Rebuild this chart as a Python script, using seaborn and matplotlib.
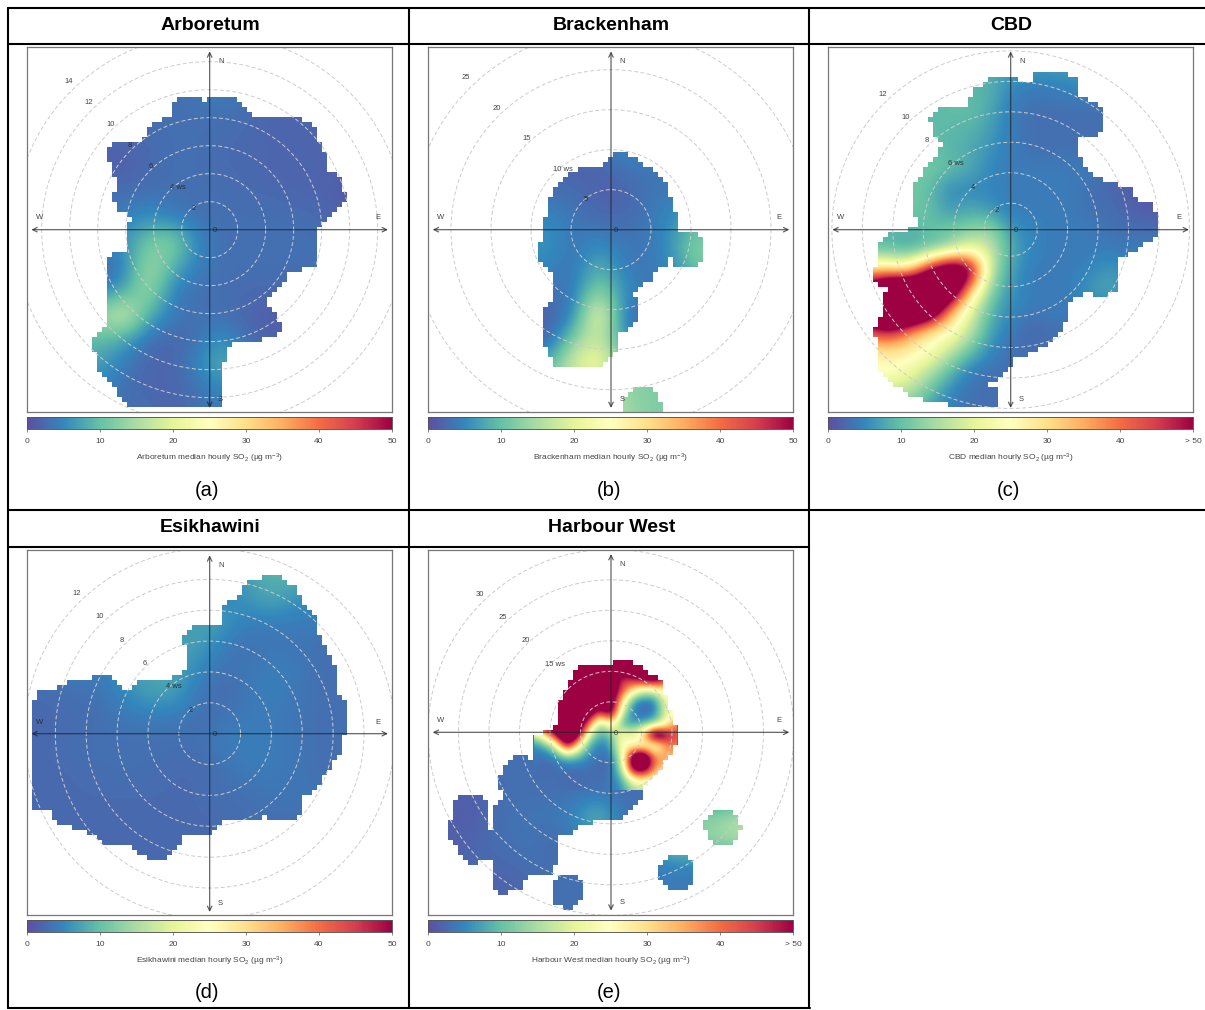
import numpy as np
import matplotlib
matplotlib.use('Agg')
import matplotlib.pyplot as plt
import seaborn as sns
from matplotlib.colors import ListedColormap
from matplotlib.lines import Line2D
from matplotlib.path import Path

site_names = ['Arboretum', 'Brackenham', 'CBD', 'Esikhawini', 'Harbour West']
panel_letters = ['(a)', '(b)', '(c)', '(d)', '(e)']
scale_ticks = [0, 10, 20, 30, 40, 50]

# wind speed rings
arb_rings = [2, 4, 6, 8, 10, 12, 14]
bra_rings = [5, 10, 15, 20, 25]
cbd_rings = [2, 4, 6, 8, 10, 12]
esi_rings = [2, 4, 6, 8, 10, 12]
har_rings = [5, 10, 15, 20, 25, 30]
arb_ring_text = ['2', '4 ws', '6', '8', '10', '12', '14']
bra_ring_text = ['5', '10 ws', '15', '20', '25']
cbd_ring_text = ['2', '4', '6 ws', '8', '10', '12']
esi_ring_text = ['2', '4 ws', '6', '8', '10', '12']
har_ring_text = ['15 ws', '20', '25', '30']
arb_text_x = [552, 505, 423, 360, 302, 238, 176]
arb_text_y = [508, 445, 381, 317, 254, 190, 126]
bra_text_x = [521, 453, 345, 253, 161]
bra_text_y = [481, 390, 298, 206, 115]
cbd_text_x = [553, 484, 433, 344, 281, 212]
cbd_text_y = [514, 443, 373, 304, 235, 165]
esi_text_x = [543, 494, 404, 335, 270, 200]
esi_text_y = [496, 425, 355, 285, 214, 144]
har_text_x = [430, 342, 273, 203]
har_text_y = [361, 289, 219, 150]

arb_outline_x = [600, 670, 710, 730, 790, 820, 860, 912, 925, 950, 955, 985, 1008, 1005, 975, 945, 925, 915, 915, 835, 830, 790, 765, 805, 818, 735, 690, 650, 640, 635, 600, 365, 320, 315, 265, 262, 250, 255, 295, 295, 285, 285, 320, 345, 350, 365, 320, 308, 325, 305, 295, 320, 400, 415, 490, 495, 545, 590]
arb_outline_y = [175, 170, 215, 232, 240, 235, 235, 255, 290, 345, 392, 400, 460, 490, 520, 550, 570, 620, 680, 700, 720, 755, 795, 820, 880, 905, 900, 925, 990, 1107, 1107, 1107, 1065, 1040, 1000, 950, 920, 890, 860, 780, 700, 655, 640, 630, 575, 535, 510, 460, 435, 400, 330, 307, 310, 260, 225, 180, 170, 185]
bra_outline_x = [597, 650, 690, 720, 770, 780, 793, 795, 820, 850, 878, 878, 855, 795, 782, 775, 770, 720, 715, 670, 665, 685, 685, 650, 620, 615, 595, 570, 495, 470, 430, 415, 397, 397, 418, 418, 380, 378, 397, 397, 410, 430, 480, 520, 580, 582]
bra_outline_y = [345, 340, 375, 385, 430, 510, 515, 575, 575, 575, 610, 660, 680, 680, 665, 650, 670, 700, 725, 750, 770, 785, 830, 870, 875, 930, 945, 975, 978, 985, 975, 945, 915, 800, 785, 695, 665, 620, 605, 545, 480, 445, 395, 380, 378, 355]
cbd_outline_x = [540, 655, 665, 690, 770, 800, 805, 855, 880, 880, 860, 805, 805, 820, 880, 920, 960, 965, 1025, 1040, 1040, 975, 930, 910, 922, 920, 870, 820, 775, 775, 720, 645, 615, 600, 550, 525, 555, 558, 410, 405, 330, 285, 230, 195, 200, 185, 210, 210, 225, 185, 180, 205, 195, 215, 265, 305, 320, 295, 310, 360, 390, 365, 355, 375, 470, 485]
cbd_outline_y = [115, 122, 100, 93, 100, 125, 165, 190, 210, 255, 285, 290, 345, 385, 425, 435, 445, 475, 495, 540, 585, 630, 650, 685, 710, 745, 775, 755, 785, 830, 905, 945, 945, 980, 1020, 1030, 1045, 1108, 1108, 1095, 1080, 1060, 1020, 985, 920, 870, 820, 790, 750, 725, 695, 650, 620, 590, 575, 565, 545, 515, 425, 365, 310, 290, 240, 205, 195, 150]
esi_outline_x = [600, 635, 645, 700, 705, 725, 800, 860, 885, 920, 935, 970, 985, 985, 1005, 1018, 1018, 1000, 1000, 950, 935, 900, 872, 870, 855, 775, 765, 700, 650, 600, 525, 495, 450, 420, 370, 365, 285, 265, 135, 130, 60, 60, 70, 70, 60, 60, 80, 100, 165, 180, 230, 260, 310, 335, 345, 400, 495, 530, 530, 520, 520, 545]
esi_outline_y = [240, 238, 175, 150, 115, 100, 90, 125, 180, 215, 290, 340, 385, 445, 470, 515, 545, 570, 620, 680, 720, 745, 760, 810, 830, 830, 815, 830, 825, 865, 875, 920, 950, 945, 915, 895, 895, 875, 830, 795, 790, 705, 690, 650, 640, 485, 450, 430, 425, 410, 405, 390, 395, 420, 435, 405, 395, 375, 300, 295, 270, 240]
har_outline_x = [597, 640, 690, 750, 750, 770, 785, 795, 795, 770, 740, 690, 685, 640, 620, 540, 525, 500, 495, 440, 445, 415, 345, 330, 265, 240, 238, 260, 220, 190, 170, 125, 110, 110, 130, 130, 150, 205, 235, 225, 248, 248, 270, 260, 285, 320, 370, 368, 365, 400, 430, 450, 470, 490, 520, 590]
har_outline_y = [355, 345, 370, 410, 430, 465, 535, 540, 600, 640, 680, 735, 775, 815, 830, 833, 845, 845, 860, 880, 925, 990, 995, 1040, 1045, 1020, 975, 960, 945, 960, 955, 900, 875, 830, 815, 770, 750, 750, 795, 850, 850, 785, 765, 700, 650, 630, 650, 630, 580, 560, 550, 450, 425, 380, 355, 355]

# separate low wind speed islands
bra_island_x = [690]
bra_island_y = [1100]
bra_island_r = [58]
har_island_x = [932, 793, 466]
har_island_y = [846, 984, 1042]
har_island_r = [54, 54, 50]

# SO2 on a regular grid over each plot box
arb_values = [
    [3, 3, 3, 3, 3, 3, 3, 3, 3, 3, 3, 3, 3, 3, 3, 3],
    [3, 3, 3, 3, 3, 3, 3, 3.5, 3.5, 3.5, 3, 3, 3, 3, 3, 3],
    [3, 3, 3, 3, 3, 3, 3, 3.5, 4, 3.5, 2.5, 2.5, 2.5, 2.5, 2.5, 2.5],
    [3, 3, 3, 3, 3, 3, 3, 3, 3, 2.5, 2, 2, 2, 2, 2, 2],
    [2, 2, 2, 2, 2, 2.5, 3, 3, 2.5, 2.5, 2, 2, 2, 2, 2, 2],
    [1.5, 1.5, 1.5, 1.5, 1.5, 2.5, 3, 3, 2.5, 2.5, 2, 2, 2, 2, 1, 1],
    [3, 3, 3, 3, 3, 3, 3, 3, 3, 2.5, 2.5, 2, 2, 1, 1, 1],
    [4, 4, 4, 4, 4, 6, 4, 3, 3, 3, 3, 3, 2.5, 2, 2, 2],
    [5, 5, 5, 5, 6, 11, 13, 5, 3, 3, 3, 3, 3, 3, 3, 3],
    [2, 2, 2, 2, 4, 15, 9, 4, 3, 3, 3, 3, 3, 3, 3, 3],
    [4, 4, 4, 4, 7, 15, 4, 3, 3, 2.5, 2.5, 2.5, 2.5, 2.5, 2.5, 2.5],
    [14, 14, 14, 14, 20, 8, 4, 3, 3, 2, 1.5, 1.5, 1.5, 1.5, 1.5, 1.5],
    [9, 9, 9, 10, 7, 3, 2, 3, 6, 3, 1.5, 1.5, 1.5, 1.5, 1.5, 1.5],
    [7, 7, 7, 7, 4, 2, 2, 5, 9, 5, 3, 3, 3, 3, 3, 3],
    [4, 4, 4, 5, 3, 2, 2, 3, 5, 5, 3, 3, 3, 3, 3, 3],
    [3, 3, 3, 3, 3, 3, 2, 3, 4, 4, 3, 3, 3, 3, 3, 3],
]
bra_values = [
    [4, 4, 4, 4, 4, 4, 4, 4, 4, 4, 4, 4, 4, 4, 4, 4],
    [4, 4, 4, 4, 4, 4, 4, 4, 4, 4, 4, 4, 4, 4, 4, 4],
    [4, 4, 4, 4, 4, 4, 4, 4, 4, 4, 4, 4, 4, 4, 4, 4],
    [4, 4, 4, 4, 4, 4, 4, 4, 4, 4, 4, 4, 4, 4, 4, 4],
    [4, 4, 4, 4, 4, 3, 3.5, 3.5, 5, 5, 4, 4, 4, 4, 4, 4],
    [2, 2, 2, 2, 2, 2, 1.5, 2, 3.5, 3.5, 3, 3, 3, 3, 3, 3],
    [3, 3, 3, 3, 3, 3, 3, 1.5, 1.5, 3.5, 4, 4, 4, 4, 4, 4],
    [5, 5, 5, 5, 5, 5, 3.5, 2.5, 2.5, 3.5, 5, 9, 9, 9, 9, 9],
    [6, 6, 6, 6, 6, 6, 3.5, 5, 3.5, 3.5, 6, 12, 12, 12, 12, 12],
    [5, 5, 5, 5, 5, 5, 3, 9, 4, 3.5, 5, 12, 12, 12, 12, 12],
    [3, 3, 3, 3, 3, 3.5, 3.5, 13, 6, 3.5, 4, 4, 4, 4, 4, 4],
    [1, 1, 1, 1, 1, 2, 4, 24, 4, 2, 2, 2, 2, 2, 2, 2],
    [1, 1, 1, 1, 1, 2, 12, 18, 6, 2, 2, 2, 2, 2, 2, 2],
    [8, 8, 8, 8, 8, 8, 20, 24, 12, 12, 12, 12, 12, 12, 12, 12],
    [14, 14, 14, 14, 14, 14, 14, 14, 14, 12, 12, 12, 12, 12, 12, 12],
    [15, 15, 15, 15, 15, 15, 15, 15, 15, 12, 12, 12, 12, 12, 12, 12],
]
cbd_values = [
    [8, 8, 8, 8, 8, 8, 8, 8, 8, 7, 7, 7, 7, 7, 7, 7, 7, 7, 7],
    [8, 8, 8, 8, 8, 8, 8, 8, 8, 7, 7, 7, 7, 7, 6, 6, 6, 6, 6],
    [9, 9, 9, 9, 9, 9, 9, 9, 9, 5, 4, 4, 5, 5, 5, 4, 4, 4, 4],
    [9, 9, 9, 9, 9, 9, 10, 10, 8, 4, 3, 3, 3, 3, 3, 3, 3, 3, 3],
    [10, 10, 10, 10, 10, 10, 9, 9, 7, 4, 3, 3, 3, 3, 3, 3, 3, 3, 3],
    [10, 10, 10, 10, 10, 10, 9, 8, 6, 4, 3, 3, 3, 3, 3, 3, 3, 3, 3],
    [11, 11, 11, 11, 11, 11, 10, 8, 5, 4, 4, 4, 4, 4, 3, 2, 2, 2, 2],
    [11, 11, 11, 11, 11, 10, 5, 5, 5, 4, 4, 4, 4, 3, 2, 1.5, 1, 1, 1],
    [11, 11, 11, 11, 11, 10, 6, 8, 6, 4, 4, 4, 4, 3, 3, 1.5, 1, 1, 1],
    [9, 9, 9, 9, 9, 10, 11, 12, 14, 6, 5, 4, 4, 4, 3, 3, 3, 3, 3],
    [9, 9, 9, 9, 7, 9, 13, 22, 18, 8, 5, 4, 4, 4, 4, 4, 4, 4, 4],
    [32, 32, 32, 30, 28, 52, 70, 60, 16, 7, 4, 4, 4, 5, 7, 4, 4, 4, 4],
    [60, 60, 60, 80, 80, 80, 70, 32, 12, 6, 4, 4, 4, 7, 8, 5, 5, 5, 5],
    [60, 60, 60, 80, 80, 70, 35, 20, 9, 5, 4, 4, 4, 4, 4, 4, 4, 4, 4],
    [45, 45, 45, 50, 38, 27, 26, 17, 7, 4, 2, 3, 3, 3, 3, 3, 3, 3, 3],
    [26, 26, 26, 28, 27, 25, 17, 10, 5, 3, 3, 3, 3, 3, 3, 3, 3, 3, 3],
    [25, 25, 25, 26, 22, 16, 9, 4, 3, 3, 3, 3, 3, 3, 3, 3, 3, 3, 3],
    [16, 16, 16, 16, 16, 10, 5, 3, 3, 3, 3, 3, 3, 3, 3, 3, 3, 3, 3],
    [10, 10, 10, 10, 10, 6, 4, 3, 3, 3, 3, 3, 3, 3, 3, 3, 3, 3, 3],
]
esi_values = [
    [5, 5, 5, 5, 5, 5, 5, 5, 5, 7, 9, 9, 7, 5, 5, 5],
    [5, 5, 5, 5, 5, 5, 5, 5, 5, 7, 9, 9, 7, 5, 5, 5],
    [5, 5, 5, 5, 5, 5, 5, 5, 5, 6, 8, 6, 5, 5, 5, 5],
    [5, 5, 5, 5, 5, 5, 6, 8, 7, 4, 4, 4, 4, 4, 4, 4],
    [5, 5, 5, 5, 5, 6, 7, 7, 4, 3, 3.5, 3.5, 3, 3, 3, 3],
    [4, 4, 4, 4, 6, 8, 8, 5, 3, 3.5, 4.5, 4, 3, 3, 3, 3],
    [2.5, 2.5, 3, 3, 5, 7, 7, 3.5, 2.5, 3.5, 4.5, 3.5, 3, 3, 3, 3],
    [2, 2.5, 2.5, 3, 3.5, 3.5, 3.5, 3, 3.5, 4, 4, 3.5, 3, 3, 3, 3],
    [2.5, 2.5, 3, 3, 3, 3, 3, 3, 4, 4.5, 4, 3.5, 3, 3, 3, 3],
    [2.5, 2.5, 2.5, 3, 3, 3, 2.5, 2.5, 3, 4, 4, 3.5, 3, 3, 3, 3],
    [2.5, 2.5, 2.5, 2.5, 2.5, 2.5, 2.5, 2.5, 3, 3, 3.5, 3.5, 3.5, 3, 3, 3],
    [2.5, 2.5, 2.5, 2.5, 2.5, 2.5, 2.5, 2.5, 2.5, 3, 3, 3, 3, 3, 3, 3],
    [2.5, 2.5, 2.5, 2.5, 2.5, 2.5, 2.5, 2.5, 2.5, 3, 3, 3, 3, 3, 3, 3],
    [2.5, 2.5, 2.5, 2.5, 2.5, 2.5, 2.5, 2.5, 2.5, 3, 3, 3, 3, 3, 3, 3],
    [2.5, 2.5, 2.5, 2.5, 2.5, 2.5, 2.5, 2.5, 2.5, 3, 3, 3, 3, 3, 3, 3],
    [2.5, 2.5, 2.5, 2.5, 2.5, 2.5, 2.5, 2.5, 2.5, 3, 3, 3, 3, 3, 3, 3],
]
har_values = [
    [3, 3, 3, 3, 3, 3, 3, 3, 3, 3, 3, 3, 3, 3, 3, 3],
    [3, 3, 3, 3, 3, 3, 3, 3, 3, 3, 3, 3, 3, 3, 3, 3],
    [3, 3, 3, 3, 3, 3, 3, 3, 3, 3, 3, 3, 3, 3, 3, 3],
    [3, 3, 3, 3, 3, 3, 3, 3, 3, 3, 3, 3, 3, 3, 3, 3],
    [3, 3, 3, 3, 3, 3, 3, 3, 3, 3, 3, 3, 3, 3, 3, 3],
    [3, 3, 3, 3, 3, 3, 3, 3, 3, 3, 3, 3, 3, 3, 3, 3],
    [3, 3, 3, 3, 3, 3, 3, 3, 3, 3, 3, 3, 3, 3, 3, 3],
    [3, 3, 3, 3, 3, 3, 3, 3, 3, 3, 3, 3, 3, 3, 3, 3],
    [3, 3, 3, 3, 3, 3, 3, 3, 3, 3, 3, 3, 3, 3, 3, 3],
    [3, 3, 3, 3, 3, 3, 3, 3, 3, 3, 3, 3, 3, 3, 3, 3],
    [3, 1.5, 1.5, 3, 3, 3, 3, 3, 3, 3, 3, 3, 3, 3, 3, 3],
    [1.5, 1.5, 1.5, 3, 3.5, 3.5, 5, 11, 3, 3, 13, 13, 14, 17, 17, 17],
    [1.5, 1.5, 2, 3, 3.5, 2.5, 3, 4, 3, 3, 13, 12, 14, 15, 15, 15],
    [1.5, 1.5, 3, 2, 3, 3, 3, 3, 3, 4, 4, 4, 4, 4, 4, 4],
    [1.5, 1.5, 2, 1.5, 2, 3, 3, 3, 3, 4, 4, 4, 4, 4, 4, 4],
    [3, 3, 3, 3, 3, 3, 3, 3, 3, 4, 4, 4, 4, 4, 4, 4],
]
# finer grid for the plume part of Harbour West, x 365-794, y 340-736
har_detail = [
    [60, 60, 60, 60, 60, 60, 60, 60, 60, 60, 60, 60, 60, 60],
    [60, 60, 60, 60, 60, 60, 60, 60, 60, 60, 60, 60, 60, 60],
    [60, 60, 60, 60, 60, 60, 60, 60, 44, 50, 55, 60, 45, 30],
    [60, 60, 60, 60, 60, 60, 60, 60, 45, 28, 18, 20, 30, 25],
    [60, 60, 60, 60, 60, 60, 60, 60, 30, 6, 3, 4, 22, 25],
    [60, 60, 60, 60, 60, 60, 45, 60, 18, 4, 2, 4, 20, 25],
    [60, 60, 60, 60, 60, 45, 10, 30, 8, 6, 8, 12, 22, 40],
    [15, 30, 55, 70, 60, 18, 8, 10, 25, 20, 35, 70, 55, 42],
    [5, 8, 18, 55, 26, 8, 4, 7, 25, 25, 22, 17, 36, 40],
    [4, 3, 5, 10, 9, 5, 3, 3, 20, 60, 70, 36, 38, 30],
    [3, 2, 3, 3, 3, 3, 2, 3, 14, 60, 60, 38, 30, 30],
    [3, 3, 3, 2.5, 2.5, 3, 3, 4, 8, 25, 30, 25, 20, 20],
    [3, 3, 3, 3, 3, 3, 3, 4, 5, 14, 15, 5, 3, 3],
]

sns.set_style('white')
plt.rcParams['font.family'] = ['Liberation Sans', 'DejaVu Sans']
plt.rcParams['mathtext.default'] = 'regular'
cmap = sns.color_palette('Spectral_r', as_cmap=True)

W, H = 1205, 1010
fig = plt.figure(figsize=(W / 100, H / 100), dpi=100, facecolor='white')


def rect(x0, y0, x1, y1):
    return [x0 / W, 1 - y1 / H, (x1 - x0) / W, (y1 - y0) / H]


def surface(position, values, colorbar_ax=None):
    ax = fig.add_axes(position)
    values = np.array(values, dtype=float)
    sns.heatmap(values, cmap=cmap, vmin=0, vmax=50, ax=ax,
                cbar=colorbar_ax is not None, cbar_ax=colorbar_ax,
                cbar_kws={'orientation': 'horizontal'},
                xticklabels=False, yticklabels=False)
    # same cells, smoothed in value space so the colours run through the whole palette
    rows, cols = values.shape
    ax.imshow(values, cmap=cmap, vmin=0, vmax=50, aspect='auto', zorder=2,
              interpolation='bicubic', interpolation_stage='data',
              extent=(-0.5, cols - 0.5, rows - 0.5, -0.5))
    ax.set_xlim(0, cols - 1)
    ax.set_ylim(rows - 1, 0)
    return ax


def draw_panel(name, letter, box, origin, centre, per_ws, rings, ring_offset, ring_text,
               text_x, text_y, outline_x, outline_y, values,
               islands=None, top_label='50', detail=None):
    x0, y0 = box
    px0, py0 = origin
    cx, cy = centre
    size = 365
    span = 1095
    position = rect(x0, y0, x0 + size, y0 + size)

    cax = fig.add_axes(rect(x0, y0 + size + 5, x0 + size, y0 + size + 17))
    surface(position, values, colorbar_ax=cax)
    if detail is not None:
        dx0, dx1, dy0, dy1, grid = detail
        surface(rect(x0 + (dx0 - px0) / 3, y0 + (dy0 - py0) / 3,
                     x0 + (dx1 - px0) / 3, y0 + (dy1 - py0) / 3), grid)

    cax.set_xticks(scale_ticks)
    cax.set_xticklabels([str(t) for t in scale_ticks[:-1]] + [top_label])
    cax.tick_params(axis='x', length=2.5, width=0.5, color='#555555', labelsize=6,
                    labelcolor='#444444', pad=4, bottom=True)
    cax.set_xlabel(name + ' median hourly SO$_2$ (µg m$^{-3}$)', fontsize=6,
                   color='#444444', labelpad=5)
    for s in cax.spines.values():
        s.set_visible(True)
        s.set_linewidth(0.5)
        s.set_color('#555555')

    ov = fig.add_axes(position, facecolor='none')
    ov.set_xlim(px0, px0 + span)
    ov.set_ylim(py0 + span, py0)
    ov.set_xticks([])
    ov.set_yticks([])
    for s in ov.spines.values():
        s.set_visible(True)
        s.set_color('#777777')
        s.set_linewidth(0.9)

    # white everywhere outside the sampled wind conditions, in 5 px cells
    edges_x = np.linspace(px0, px0 + span, 74)
    edges_y = np.linspace(py0, py0 + span, 74)
    mid_x = (edges_x[:-1] + edges_x[1:]) / 2
    mid_y = (edges_y[:-1] + edges_y[1:]) / 2
    gx, gy = np.meshgrid(mid_x, mid_y)
    points = np.column_stack([gx.ravel(), gy.ravel()])
    inside = Path(np.column_stack([outline_x, outline_y])).contains_points(points)
    if islands is not None:
        for ix, iy, ir in zip(*islands):
            inside |= (points[:, 0] - ix) ** 2 + (points[:, 1] - iy) ** 2 <= ir ** 2
    cover = np.ma.masked_where(inside.reshape(gx.shape), np.ones(gx.shape))
    ov.pcolormesh(edges_x, edges_y, cover, cmap=ListedColormap(['white']), zorder=1)

    theta = np.linspace(0, 2 * np.pi, 361)
    for ws in rings:
        r = ws * per_ws + ring_offset
        ov.plot(cx + r * np.cos(theta), cy + r * np.sin(theta), color='#cccccc', lw=0.7,
                ls=(0, (4, 2.5)), zorder=2)

    for start, end in [((cx - 535, cy), (cx + 535, cy)), ((cx, cy - 535), (cx, cy + 535))]:
        ov.annotate('', xy=end, xytext=start, zorder=3,
                    arrowprops=dict(arrowstyle='<->', color='#222222', lw=0.9, alpha=0.7,
                                    shrinkA=0, shrinkB=0, mutation_scale=8))

    small = dict(fontsize=5.5, color='#222222', ha='center', va='center', zorder=4, alpha=0.85)
    for label, tx, ty in zip(ring_text, text_x, text_y):
        ov.text(tx, ty, label, **small)
    ov.text(cx + 15, cy + 3, '0', **small)
    ov.text(cx + 33, cy - 505, 'N', **small)
    ov.text(cx + 33, cy + 510, 'S', **small)
    ov.text(cx - 510, cy - 35, 'W', **small)
    ov.text(cx + 505, cy - 35, 'E', **small)

    mid = x0 + size / 2 - 2
    fig.text((mid + 3) / W, 1 - (y0 - 22) / H, name, fontsize=14, fontweight='bold',
             ha='center', va='center', color='black')
    fig.text(mid / W, 1 - (y0 + size + 78) / H, letter, fontsize=14.5,
             ha='center', va='center', color='black')


draw_panel(site_names[0], panel_letters[0], (27, 47), (52, 22), (600, 570), 42, arb_rings, 0,
           arb_ring_text, arb_text_x, arb_text_y, arb_outline_x, arb_outline_y, arb_values)
draw_panel(site_names[1], panel_letters[1], (428, 47), (48, 22), (597, 570), 24, bra_rings, 0,
           bra_ring_text, bra_text_x, bra_text_y, bra_outline_x, bra_outline_y, bra_values,
           islands=(bra_island_x, bra_island_y, bra_island_r))
draw_panel(site_names[2], panel_letters[2], (828, 47), (48, 22), (596, 570), 45.7, cbd_rings, -12,
           cbd_ring_text, cbd_text_x, cbd_text_y, cbd_outline_x, cbd_outline_y, cbd_values,
           top_label='> 50')
draw_panel(site_names[3], panel_letters[3], (27, 550), (52, 14), (600, 565), 46.3, esi_rings, 0,
           esi_ring_text, esi_text_x, esi_text_y, esi_outline_x, esi_outline_y, esi_values)
draw_panel(site_names[4], panel_letters[4], (428, 550), (48, 16), (597, 563), 18.3, har_rings, 0,
           har_ring_text, har_text_x, har_text_y, har_outline_x, har_outline_y, har_values,
           islands=(har_island_x, har_island_y, har_island_r), top_label='> 50',
           detail=(365, 794, 340, 736, har_detail))

# table rules
rules = [((8, 1205), (8, 8)), ((8, 1205), (44, 44)), ((8, 1205), (510, 510)), ((8, 809), (547, 547)),
         ((8, 810), (1008, 1008)), ((8, 8), (8, 1008)), ((408.5, 408.5), (8, 1008)),
         ((809.5, 809.5), (8, 1008))]
for xs, ys in rules:
    fig.add_artist(Line2D([x / W for x in xs], [1 - y / H for y in ys], color='black', lw=1.5))

fig.savefig('out.png', dpi=100)
